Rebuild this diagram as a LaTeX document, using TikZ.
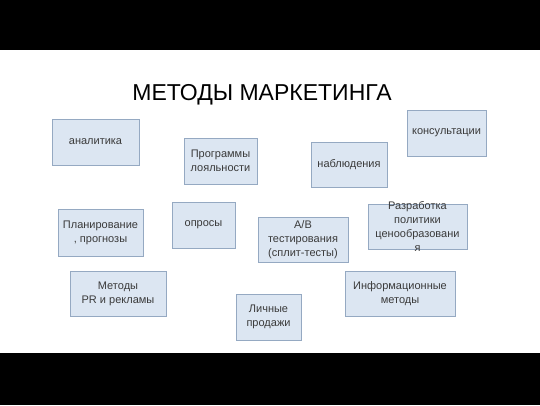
\documentclass[tikz,border=0pt]{standalone}
\usepackage{fontspec}
\setmainfont{Liberation Sans}
\usepackage{tikz}
\usetikzlibrary{shapes.geometric, positioning}
\definecolor{boxFill}{HTML}{DCE6F2}
\definecolor{boxLine}{HTML}{95A9C2}
\definecolor{boxText}{HTML}{3A3A3A}
\tikzstyle{methodBox} = [rectangle, fill=boxFill, draw=boxLine, line width=0.8pt, text=boxText, align=center, inner sep=0pt, font=\fontsize{11}{14}\selectfont]
\tikzstyle{boxText} = [text=boxText, align=center, font=\fontsize{11}{14}\selectfont]
\tikzstyle{titleText} = [text=black, font=\fontsize{23}{26}\selectfont]

\begin{document}
\begin{tikzpicture}[x=1pt, y=-1pt]
    \useasboundingbox (0,0) rectangle (540,405);
    \fill [black] (0,0) rectangle (540,50);
    \fill [black] (0,353) rectangle (540,405);
    \node (title) [titleText] at (262,95) {МЕТОДЫ МАРКЕТИНГА};
    \node (anal) [methodBox, minimum width=87pt, minimum height=46pt] at (95.5,142) {аналитика};
    \node (prog) [methodBox, minimum width=73pt, minimum height=46pt] at (220.5,161) {Программы\\лояльности};
    \node (kons) [methodBox, minimum width=79pt, minimum height=46pt] at (446.5,133) {консультации};
    \node (nabl) [methodBox, minimum width=76pt, minimum height=45pt] at (349,164.5) {наблюдения};
    \node (plan) [methodBox, minimum width=85pt, minimum height=47pt] at (100.5,232.5) {Планирование\\, прогнозы};
    \node (opros) [methodBox, minimum width=63pt, minimum height=46pt] at (203.5,225) {опросы};
    \node (ab) [methodBox, minimum width=90pt, minimum height=45pt] at (303,239.5) {A/B\\тестирования\\(сплит-тесты)};
    \node (razr) [methodBox, minimum width=99pt, minimum height=45pt] at (417.5,226.5) {};
    \node (razrText) [boxText] at (razr.center) {Разработка\\политики\\ценообразовани\\я};
    \node (pr) [methodBox, minimum width=96pt, minimum height=45pt] at (118,293.5) {Методы\\PR и рекламы};
    \node (lich) [methodBox, minimum width=65pt, minimum height=46pt] at (268.5,317) {Личные\\продажи};
    \node (inf) [methodBox, minimum width=110pt, minimum height=45pt] at (400,293.5) {Информационные\\методы};
\end{tikzpicture}
\end{document}
